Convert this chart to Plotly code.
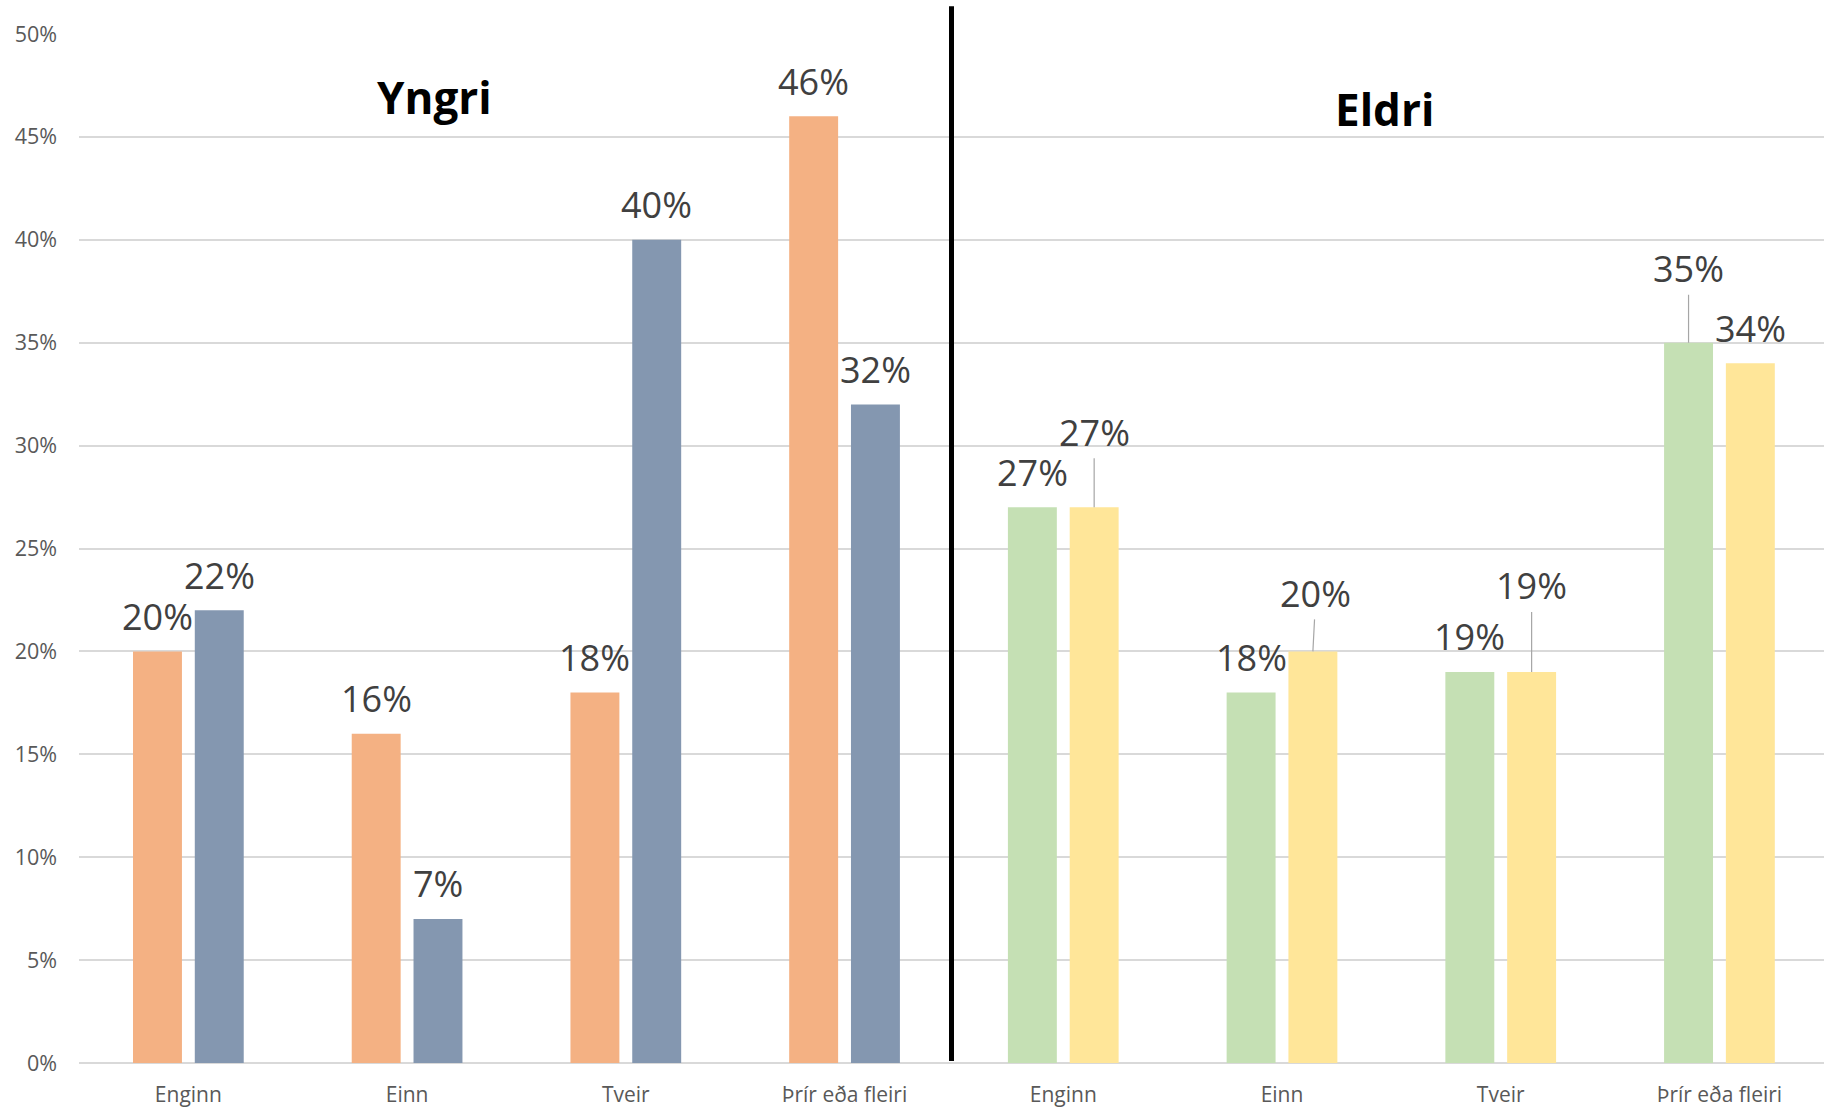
import plotly.graph_objects as go

# ---- data ----
categories = ["Enginn", "Einn", "Tveir", "Þrír eða fleiri"]
group_titles = ["Yngri", "Eldri"]
yngri_a = [20, 16, 18, 46]
yngri_b = [22, 7, 40, 32]
eldri_a = [27, 18, 19, 35]
eldri_b = [27, 20, 19, 34]
y_ticks = [0, 5, 10, 15, 20, 25, 30, 35, 40, 45, 50]

# ---- styles ----
C_ORANGE = "#f4b183"
C_BLUE = "#8497b0"
C_GREEN = "#c5e0b4"
C_YELLOW = "#ffe699"
FONT = "Open Sans"
LABEL_COLOR = "#404040"
TICK_COLOR = "#595959"
GRID = "#d9d9d9"
BARGAP = 0.435
BARGROUPGAP = 0.208

# label pixel offsets (dx, dy above bar top, leader line?)
shift_a = [(0, 35, False)] * 4 + [(0, 35, False), (0, 35, False), (0, 35, False), (0, 74, True)]
shift_b = [(0, 35, False)] * 4 + [(0, 75, True), (3, 58, True), (0, 86, True), (0, 35, False)]

xlabels = categories + categories
xs = list(range(len(xlabels)))
series_a = yngri_a + eldri_a
series_b = yngri_b + eldri_b
colors_a = [C_ORANGE] * 4 + [C_GREEN] * 4
colors_b = [C_BLUE] * 4 + [C_YELLOW] * 4

fig = go.Figure()
fig.add_trace(go.Bar(x=xs, y=series_a, marker=dict(color=colors_a, line=dict(width=0)),
                     hoverinfo="skip", showlegend=False))
fig.add_trace(go.Bar(x=xs, y=series_b, marker=dict(color=colors_b, line=dict(width=0)),
                     hoverinfo="skip", showlegend=False))

slot = (1 - BARGAP) / 2
annotations = []
for vals, shifts, off in ((series_a, shift_a, -slot / 2), (series_b, shift_b, slot / 2)):
    for i, v in enumerate(vals):
        dx, dy, leader = shifts[i]
        if leader:
            annotations.append(dict(
                x=xs[i] + off, y=v, xref="x", yref="y", text=f"{v}%",
                showarrow=True, ax=dx, ay=-dy, arrowhead=0, arrowwidth=1.2,
                arrowcolor="#a6a6a6", standoff=0,
                font=dict(family=FONT, size=36, color=LABEL_COLOR)))
        else:
            annotations.append(dict(
                x=xs[i] + off, y=v, xref="x", yref="y", text=f"{v}%",
                showarrow=False, xshift=dx, yshift=dy, xanchor="center", yanchor="middle",
                font=dict(family=FONT, size=36, color=LABEL_COLOR)))

annotations.append(dict(x=0.204, y=0.939, xref="paper", yref="paper", text=f"<b>{group_titles[0]}</b>",
                        showarrow=False, xanchor="center", yanchor="middle",
                        font=dict(family=FONT, size=44, color="black")))
annotations.append(dict(x=0.748, y=0.927, xref="paper", yref="paper", text=f"<b>{group_titles[1]}</b>",
                        showarrow=False, xanchor="center", yanchor="middle",
                        font=dict(family=FONT, size=44, color="black")))

fig.update_layout(
    width=1824, height=1108,
    margin=dict(l=79, r=0, t=34, b=45),
    paper_bgcolor="white", plot_bgcolor="white",
    barmode="group", bargap=BARGAP, bargroupgap=BARGROUPGAP,
    annotations=annotations,
    shapes=[dict(type="line", xref="paper", yref="paper", x0=0.5, x1=0.5, y0=0.002, y1=1.027,
                 line=dict(color="black", width=5))],
    xaxis=dict(tickmode="array", tickvals=xs, ticktext=xlabels, range=[-0.5, 7.478],
               showgrid=False, showline=False, zeroline=False, ticks="",
               tickfont=dict(family=FONT, size=21, color=TICK_COLOR), ticklabelstandoff=17),
    yaxis=dict(range=[0, 50], tickmode="array", tickvals=y_ticks,
               ticktext=[f"{t}%" for t in y_ticks],
               showgrid=True, gridcolor=GRID, gridwidth=1.5,
               zeroline=True, zerolinecolor=GRID, zerolinewidth=2, showline=False, ticks="",
               tickfont=dict(family=FONT, size=21.5, color=TICK_COLOR), ticklabelstandoff=21),
)

fig.write_html("out.html", config={"displayModeBar": False},
               post_script="document.body.style.margin='0';document.body.style.overflow='hidden';")
